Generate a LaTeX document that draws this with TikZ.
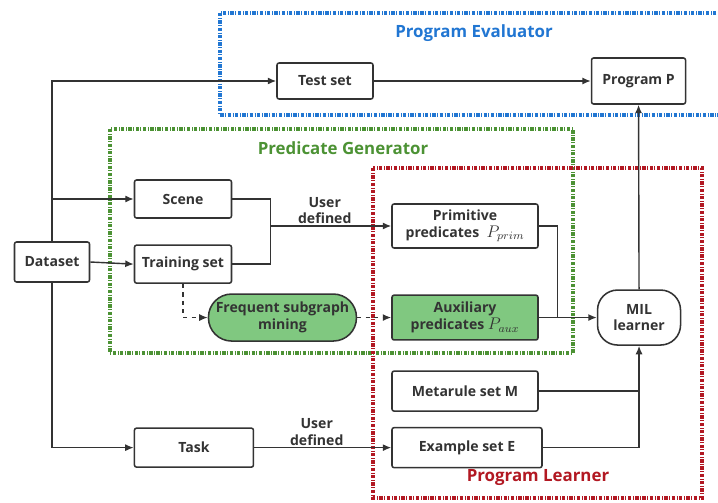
\documentclass[tikz,border=0pt]{standalone}
\usepackage{amsmath}
\usepackage{fontspec}
\setmainfont{Open Sans}
\usepackage{tikz}
\usetikzlibrary{positioning,calc,arrows.meta}
\definecolor{ink}{RGB}{51,51,51}
\definecolor{evalblue}{RGB}{33,118,210}
\definecolor{gengreen}{RGB}{76,146,52}
\definecolor{learnred}{RGB}{178,24,34}
\definecolor{minefill}{RGB}{128,200,128}
\tikzset{
    block/.style={draw=ink, rectangle, rounded corners=1.5pt, line width=1.1pt, text=ink, align=center, font=\bfseries, inner sep=2pt, minimum height=0.95cm},
    pill/.style={block, rounded corners=0.58cm, fill=minefill},
    frame/.style={line width=2.3pt, dash pattern=on 2.4pt off 1.1pt on 0.6pt off 1.1pt},
    flow/.style={draw=ink, line width=1pt, -{Latex[length=6pt,width=5pt]}},
    link/.style={draw=ink, line width=1pt},
    title/.style={font=\large\bfseries}
}

\begin{document}
\begin{tikzpicture}
        \useasboundingbox (0,0) rectangle (17.95,12.55);

        % Module frames
        \draw[frame, evalblue] (5.5,12.225) rectangle (18.2,9.675);
        \draw[frame, gengreen] (2.75,9.325) rectangle (14.325,3.725);
        \draw[frame, learnred] (9.325,8.35) rectangle (17.55,0.1);
        \node (eval_title) [title, text=evalblue] at (11.85,11.72) {Program Evaluator};
        \node (gen_title) [title, text=gengreen] at (8.575,8.85) {Predicate Generator};
        \node (learn_title) [title, text=learnred] at (13.45,0.62) {Program Learner};

        % Data sources
        \node (dataset) [block, minimum width=1.875cm, minimum height=1.0cm] at (1.3,6.0) {Dataset};
        \node (scene) [block, minimum width=2.425cm] at (4.575,7.575) {Scene};
        \node (train) [block, minimum width=2.425cm, below=0.64cm of scene] {Training set};
        \node (test) [block, minimum width=2.4cm, minimum height=0.9cm] at (8.125,10.525) {Test set};
        \node (progP) [block, minimum width=2.35cm, minimum height=1.15cm, right=5.425cm of test] {Program P};

        % Predicates
        \node (prim) [block, minimum width=3.65cm, minimum height=1.1cm] at (11.625,6.9) {Primitive\\predicates\ \ {\large$P_{prim}$}};
        \node (aux) [block, minimum width=3.65cm, minimum height=1.12cm, fill=minefill, below=1.14cm of prim] {Auxiliary\\predicates {\large$P_{aux}$}};
        \node (fsm) [pill, minimum width=3.7cm, minimum height=1.175cm, left=0.85cm of aux] {Frequent subgraph\\mining};

        % Learner inputs
        \node (meta) [block, minimum width=3.65cm, minimum height=1.0cm, below=0.74cm of aux] {Metarule set M};
        \node (exam) [block, minimum width=3.75cm, minimum height=1.0cm, below=0.375cm of meta, xshift=0.05cm] {Example set E};
        \node (task) [block, minimum width=2.975cm, minimum height=0.975cm, left=3.425cm of exam] {Task};
        \node (mil) [block, rounded corners=0.5cm, minimum width=2.075cm, minimum height=1.375cm, right=1.45cm of aux] {MIL\\learner};

        % Dataset fan-out
        \draw[flow] (dataset.north) |- (test.west);
        \draw[flow] (dataset.north |- scene.west) -- (scene.west);
        \draw[flow] (dataset.east) -- (train.west);
        \draw[flow] (dataset.south) |- (task.west);

        % User defined primitives
        \coordinate (ud) at ($(scene.east |- prim.west)+(0.95,0)$);
        \draw[link] (scene.east) -| (ud);
        \draw[link] (train.east) -| (ud);
        \draw[flow] (ud) -- node[above, align=center, font=\bfseries, text=ink, xshift=-0.15cm, inner sep=1pt, text depth=0pt] {User\\defined} (prim.west);

        % Mined predicates
        \draw[flow, dashed] (train.south) |- (fsm.west);
        \draw[flow, dashed] (fsm.east) -- (aux.west);

        % Into the learner
        \coordinate (merge) at ($(prim.east |- aux.east)+(0.475,0)$);
        \draw[link] (prim.east) -| (merge);
        \draw[flow] (aux.east) -- (mil.west);
        \draw[link] (meta.east) -- (meta.east -| mil.south);
        \draw[flow] (exam.east) -| (mil.south);
        \draw[flow] (task.east) -- node[above, align=center, font=\bfseries, text=ink, xshift=-0.15cm, inner sep=1pt, text depth=0pt] {User\\defined} (exam.west);

        % Evaluation
        \draw[flow] (mil.north) -- (progP.south);
        \draw[flow] (test.east) -- (progP.west);

    \end{tikzpicture}
\end{document}
